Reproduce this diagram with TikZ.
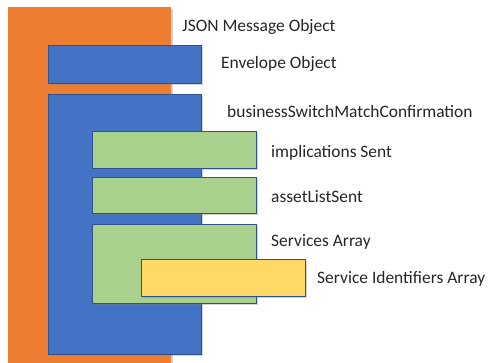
\documentclass[tikz,border=0pt]{standalone}
\usepackage{fontspec}
\setmainfont{Carlito}
\usetikzlibrary{shadows}
\definecolor{orng}{HTML}{ED7D31}
\definecolor{blu}{HTML}{4472C4}
\definecolor{grn}{HTML}{A9D18E}
\definecolor{ylw}{HTML}{FFD966}
\definecolor{edg}{HTML}{2F528F}
\tikzset{
  box/.style={draw=edg, line width=0.8pt, drop shadow={opacity=0.35, shadow xshift=2bp, shadow yshift=-2bp}},
  lbl/.style={anchor=west, inner sep=0pt, font=\fontsize{17.5}{19}\selectfont, text=black!85}
}
\begin{document}
\begin{tikzpicture}[x=1bp,y=-1bp]
\useasboundingbox (0,0) rectangle (489,362);
\path[box, fill=orng, draw=none] (8,7) rectangle (171,370);
\path[box, fill=blu] (48,45) rectangle (201,83);
\path[box, fill=blu] (48,94) rectangle (201,354);
\path[box, fill=grn] (92,131) rectangle (256,168);
\path[box, fill=grn] (92,177) rectangle (256,213);
\path[box, fill=grn] (92,224) rectangle (256,303);
\path[box, fill=ylw] (141,259) rectangle (305,296);
\node[lbl] (t1) at (182,27) {JSON Message Object};
\node[lbl] (t2) at (221,64) {Envelope Object};
\node[lbl] (t3) at (227,112) {businessSwitchMatchConfirmation};
\node[lbl] (t4) at (271,153) {implications Sent};
\node[lbl] (t5) at (271,197) {assetListSent};
\node[lbl] (t6) at (271,242) {Services Array};
\node[lbl] (t7) at (317,279) {Service Identifiers Array};
\end{tikzpicture}
\end{document}
